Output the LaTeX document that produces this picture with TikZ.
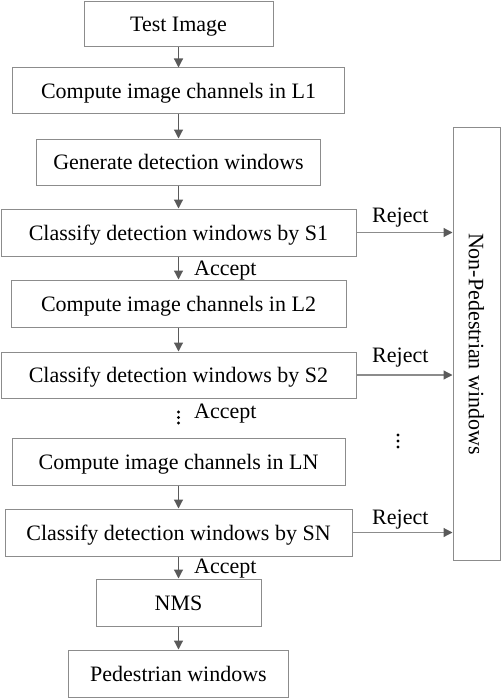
\documentclass[tikz,border=0pt]{standalone}
\usepackage{fontspec}
\setmainfont{Liberation Serif}
\usetikzlibrary{arrows.meta}
\definecolor{boxgray}{HTML}{8C8C8C}
\definecolor{arrgray}{HTML}{5A5A5A}
\definecolor{rejgray}{HTML}{8C8C8C}
\begin{document}
\begin{tikzpicture}[x=1pt,y=-1pt,
  box/.style={draw=boxgray, line width=1pt, inner sep=0pt, fill=white,
    text height=15pt, text depth=0pt,
    font=\fontsize{22}{26}\selectfont},
  lbl/.style={inner sep=0pt, font=\fontsize{22}{26}\selectfont},
  arr/.style={draw=arrgray, line width=1.2pt, -{Triangle[length=9pt,width=9pt]}},
  rej/.style={draw=rejgray, line width=1.2pt, -{Triangle[length=9pt,width=9pt,color=arrgray]}}]
\useasboundingbox (0,0) rectangle (502,698);
\node[box, minimum width=189pt, minimum height=45pt] (test) at (178.5,24.5) {Test Image};
\node[box, minimum width=332pt, minimum height=46pt] (L1) at (178.5,91) {Compute image channels in L1};
\node[box, minimum width=284pt, minimum height=46pt] (gen) at (178.5,162) {Generate detection windows};
\node[box, minimum width=355pt, minimum height=47pt] (S1) at (178.5,232.5) {Classify detection windows by S1};
\node[box, minimum width=335pt, minimum height=47pt] (L2) at (178.5,303.5) {Compute image channels in L2};
\node[box, minimum width=355pt, minimum height=46pt] (S2) at (178.5,375) {Classify detection windows by S2};
\node[box, minimum width=333pt, minimum height=47pt] (LN) at (178.5,461.5) {Compute image channels in LN};
\node[box, minimum width=347pt, minimum height=47pt] (SN) at (178.5,532.5) {Classify detection windows by SN};
\node[box, minimum width=165pt, minimum height=47pt] (nms) at (178.5,602.5) {NMS};
\node[box, minimum width=220pt, minimum height=47pt] (ped) at (178.5,673.5) {Pedestrian windows};
\node[box, minimum width=47pt, minimum height=433pt] (non) at (476.5,343.5) {};
\node[lbl, rotate=-90] (nontext) at (476.5,344) {Non-Pedestrian windows};

\draw[arr] (test) -- (L1);
\draw[arr] (L1) -- (gen);
\draw[arr] (gen) -- (S1);
\draw[arr] (S1) -- (L2);
\draw[arr] (L2) -- (S2);
\draw[arr] (LN) -- (SN);
\draw[arr] (SN) -- (nms);
\draw[arr] (nms) -- (ped);

\draw[rej] (S1.east) -- (S1.east -| non.west);
\draw[rej] (S2.east) -- (S2.east -| non.west);
\draw[rej] (SN.east) -- (SN.east -| non.west);

\node[lbl, anchor=base west] (rej1) at (372,222) {Reject};
\node[lbl, anchor=base west] (rej2) at (372,362) {Reject};
\node[lbl, anchor=base west] (rej3) at (372,524) {Reject};
\node[lbl, anchor=base west] (acc1) at (194,275) {Accept};
\node[lbl, anchor=base west] (acc2) at (194,418) {Accept};
\node[lbl, anchor=base west] (acc3) at (194,573) {Accept};

\foreach \yy in {412,417.5,423} \fill (178.5,\yy) circle (1.7pt);
\foreach \yy in {435,441,447} \fill (398,\yy) circle (1.7pt);
\end{tikzpicture}
\end{document}
